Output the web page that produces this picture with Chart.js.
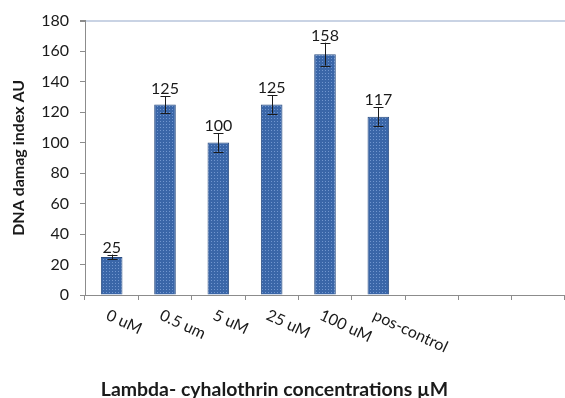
<!DOCTYPE html>
<html>
<head>
<meta charset="utf-8">
<script src="https://cdn.jsdelivr.net/npm/chart.js@4"></script>
<style>
  html, body { margin: 0; padding: 0; background: #ffffff; }
  #wrap { width: 565px; height: 398px; position: relative; }
</style>
</head>
<body>
<div id="wrap"><canvas id="c" width="565" height="398"></canvas></div>
<script>
// ---- data ----
const categories = ['0 uM', '0.5 um', '5 uM', '25 uM', '100 uM', 'pos-control', '', '', ''];
const damageIndex = [25, 125, 100, 125, 158, 117];
const errorValues = [1.5, 5.5, 6, 6, 7.5, 6];
const dataLabels = ['25', '125', '100', '125', '158', '117'];
const yTickMin = 0, yTickMax = 180, yTickStep = 20;
const yTitle = 'DNA damag index AU';
const xTitle = 'Lambda- cyhalothrin concentrations µM';

const FONT = 'Lato, "Liberation Sans", sans-serif';

// dotted bar fill
function makePattern() {
  const p = document.createElement('canvas');
  p.width = 3; p.height = 3;
  const g = p.getContext('2d');
  g.fillStyle = '#3a66a8';
  g.fillRect(0, 0, 3, 3);
  g.fillStyle = '#7196cf';
  g.fillRect(1, 1, 1, 1);
  return document.getElementById('c').getContext('2d').createPattern(p, 'repeat');
}

const overlayPlugin = {
  id: 'overlay',
  afterDatasetsDraw(chart) {
    const ctx = chart.ctx;
    const y = chart.scales.y;
    const meta = chart.getDatasetMeta(0);
    ctx.save();
    meta.data.forEach((bar, i) => {
      const v = damageIndex[i], e = errorValues[i];
      const yt = y.getPixelForValue(v + e);
      const yb = y.getPixelForValue(v - e);
      const x = Math.round(bar.x) + 0.5;
      ctx.strokeStyle = '#1a1a1a';
      ctx.lineWidth = 1;
      ctx.beginPath();
      ctx.moveTo(x, yt); ctx.lineTo(x, yb);
      ctx.moveTo(x - 5, Math.round(yt) + 0.5); ctx.lineTo(x + 5, Math.round(yt) + 0.5);
      ctx.moveTo(x - 5, Math.round(yb) + 0.5); ctx.lineTo(x + 5, Math.round(yb) + 0.5);
      ctx.stroke();
      ctx.fillStyle = '#1a1a1a';
      ctx.font = '16px ' + FONT;
      ctx.textAlign = 'center';
      ctx.textBaseline = 'alphabetic';
      ctx.fillText(dataLabels[i], bar.x, yt - 2);
    });
    ctx.restore();
  },
  afterDraw(chart) {
    const ctx = chart.ctx;
    const xs = chart.scales.x;
    ctx.save();
    ctx.fillStyle = '#1a1a1a';
    ctx.font = '16px ' + FONT;
    ctx.textAlign = 'left';
    ctx.textBaseline = 'top';
    categories.forEach((lab, i) => {
      if (!lab) return;
      const cx = xs.getPixelForTick(i);
      ctx.save();
      ctx.translate(cx - 1, xs.top + 12);
      ctx.rotate(25 * Math.PI / 180);
      ctx.fillText(lab, 0, 0);
      ctx.restore();
    });
    ctx.font = 'bold 18px ' + FONT;
    ctx.textAlign = 'center';
    ctx.textBaseline = 'alphabetic';
    ctx.translate(chart.width / 2 - 8, 396);
    ctx.scale(1.08, 1);
    ctx.fillText(xTitle, 0, 0);
    ctx.restore();
  }
};

new Chart(document.getElementById('c'), {
  type: 'bar',
  data: {
    labels: categories,
    datasets: [{
      data: damageIndex,
      backgroundColor: makePattern(),
      borderColor: '#2a4c80',
      borderWidth: 1,
      categoryPercentage: 1,
      barPercentage: 0.405
    }]
  },
  options: {
    responsive: false,
    animation: false,
    devicePixelRatio: 1,
    layout: { padding: { top: 20, right: -2, left: 0, bottom: 0 } },
    plugins: { legend: { display: false }, tooltip: { enabled: false } },
    scales: {
      x: {
        offset: true,
        grid: { offset: true, color: 'transparent', tickColor: '#8c8c8c', tickLength: 5, drawOnChartArea: false },
        border: { color: '#8c8c8c', width: 1 },
        ticks: { display: false },
        afterFit(s) { s.height = 103; }
      },
      y: {
        min: yTickMin, max: yTickMax,
        ticks: { stepSize: yTickStep, color: '#1a1a1a', font: { family: FONT, size: 16 }, padding: 11 },
        grid: {
          color: c => (c.tick && c.tick.value === yTickMax) ? '#c9d3e4' : 'transparent',
          lineWidth: c => (c.tick && c.tick.value === yTickMax) ? 2 : 1,
          tickColor: '#8c8c8c', tickLength: 5
        },
        border: { color: '#8c8c8c', width: 1 },
        title: { display: true, text: yTitle, color: '#1a1a1a', font: { family: FONT, size: 16, weight: 'bold' }, padding: { top: 9, bottom: 0 } },
        afterFit(s) { s.width = 85; }
      }
    }
  },
  plugins: [overlayPlugin]
});
</script>
</body>
</html>
